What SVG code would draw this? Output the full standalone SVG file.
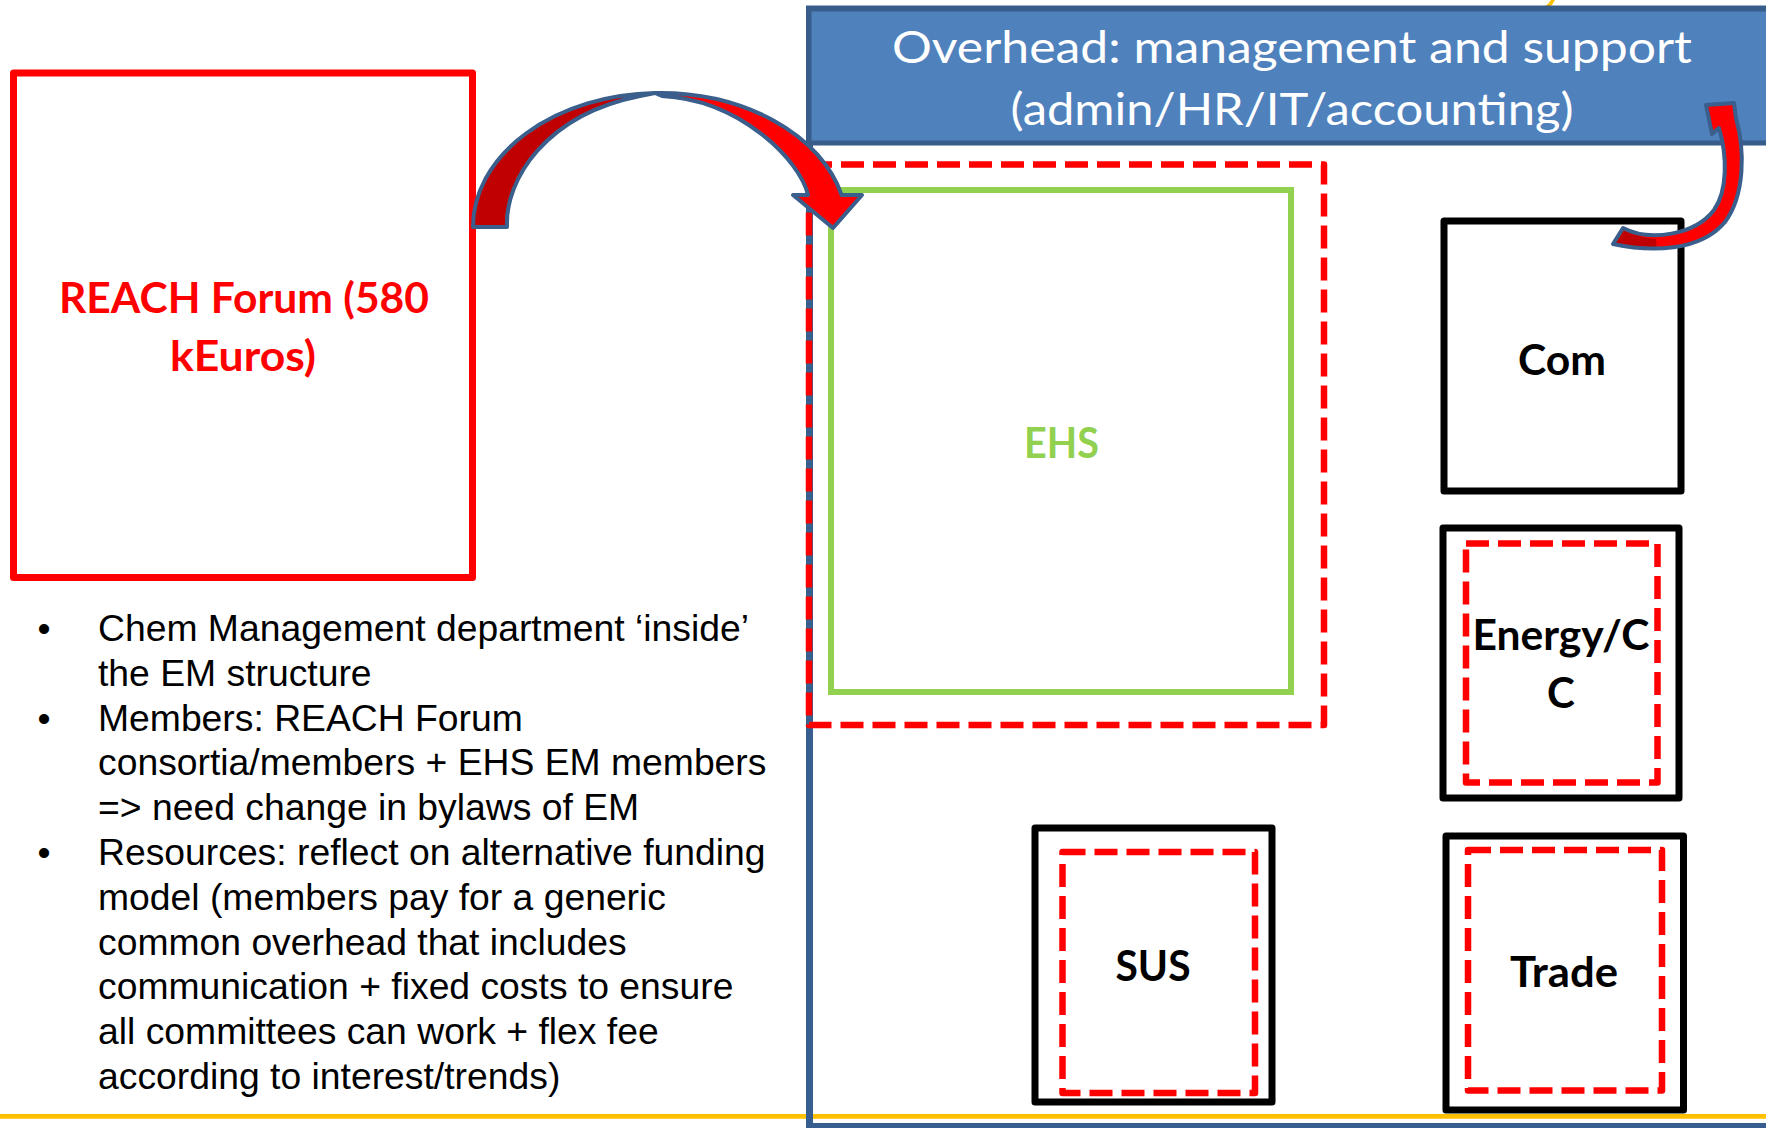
<svg xmlns="http://www.w3.org/2000/svg" width="1766" height="1128" viewBox="0 0 1766 1128">
<style>
  .bul { font-family: "Liberation Sans", Arial, sans-serif; font-size: 37.3px; fill: #000; }
  .lbl { font-family: Lato, "Open Sans", sans-serif; font-weight: bold; font-size: 42px; text-anchor: middle; }
  .hdr { font-family: Lato, "Open Sans", sans-serif; font-size: 44px; fill: #fff; text-anchor: middle; }
  .blk { fill: none; stroke: #000; stroke-width: 7; stroke-linejoin: round; }
  .dsh { fill: none; stroke: #FF0000; stroke-width: 6.5; stroke-dasharray: 23 9; stroke-linejoin: round; }
  .arrow-outline { stroke: #3B5F8C; stroke-width: 4; stroke-linejoin: round; }
</style>
<rect width="1766" height="1128" fill="#fff"/>
<line x1="0" y1="1116.3" x2="1766" y2="1116.3" stroke="#FFC000" stroke-width="4.7"/>
<polygon points="1542,8 1548,4 1551,0 1555,0 1552,5 1546,9" fill="#FFC000"/>

<g id="container">
  <rect x="809.5" y="9" width="1100" height="1117.5" fill="none" stroke="#375E8E" stroke-width="7"/>
</g>

<g id="overhead">
  <rect x="809" y="9" width="1100" height="134" fill="#4F81BD" stroke="#385D8A" stroke-width="5"/>
  <text class="hdr" x="1292" y="63" textLength="800" lengthAdjust="spacingAndGlyphs">Overhead: management and support</text>
  <text class="hdr" x="1292" y="125" textLength="563" lengthAdjust="spacingAndGlyphs">(admin/HR/IT/accounting)</text>
</g>

<g id="ehs">
  <rect class="dsh" x="809" y="164.5" width="515" height="560.5"/>
  <rect x="831" y="190" width="460" height="502" fill="none" stroke="#92D050" stroke-width="6"/>
  <text class="lbl" x="1061.5" y="458" fill="#92D050" textLength="75" lengthAdjust="spacingAndGlyphs">EHS</text>
</g>

<g id="com">
  <rect class="blk" x="1444" y="221" width="237" height="270"/>
  <text class="lbl" x="1562" y="375" fill="#000" textLength="88" lengthAdjust="spacingAndGlyphs">Com</text>
</g>

<g id="energy">
  <rect class="blk" x="1443" y="528" width="236" height="270"/>
  <rect class="dsh" x="1466" y="543.5" width="191.5" height="239"/>
  <text class="lbl" x="1561" y="650" fill="#000" textLength="177" lengthAdjust="spacingAndGlyphs">Energy/C</text>
  <text class="lbl" x="1561" y="708" fill="#000">C</text>
</g>

<g id="sus">
  <rect class="blk" x="1035" y="828" width="237" height="274"/>
  <rect class="dsh" x="1062.5" y="852" width="192.5" height="241"/>
  <text class="lbl" x="1153" y="981" fill="#000" textLength="75" lengthAdjust="spacingAndGlyphs">SUS</text>
</g>

<g id="trade">
  <rect class="blk" x="1446" y="836" width="237.5" height="274"/>
  <rect class="dsh" x="1468" y="850" width="194" height="240.5"/>
  <text class="lbl" x="1564" y="987" fill="#000" textLength="108" lengthAdjust="spacingAndGlyphs">Trade</text>
</g>

<g id="reach">
  <rect x="13.5" y="73" width="459" height="504.5" fill="none" stroke="#FF0000" stroke-width="7" stroke-linejoin="round"/>
  <text class="lbl" x="244" y="313" fill="#FF0000" textLength="370" lengthAdjust="spacingAndGlyphs">REACH Forum (580</text>
  <text class="lbl" x="243" y="371" fill="#FF0000" textLength="146" lengthAdjust="spacingAndGlyphs">kEuros)</text>
</g>

<g id="notes">
  <text class="bul" x="37.5" y="641">•</text>
  <text class="bul" x="98" y="641">Chem Management department ‘inside’</text>
  <text class="bul" x="98" y="685.8">the EM structure</text>
  <text class="bul" x="37.5" y="730.6">•</text>
  <text class="bul" x="98" y="730.6">Members: REACH Forum</text>
  <text class="bul" x="98" y="775.4">consortia/members + EHS EM members</text>
  <text class="bul" x="98" y="820.2">=&gt; need change in bylaws of EM</text>
  <text class="bul" x="37.5" y="865">•</text>
  <text class="bul" x="98" y="865">Resources: reflect on alternative funding</text>
  <text class="bul" x="98" y="909.8">model (members pay for a generic</text>
  <text class="bul" x="98" y="954.6">common overhead that includes</text>
  <text class="bul" x="98" y="999.4">communication + fixed costs to ensure</text>
  <text class="bul" x="98" y="1044.2">all committees can work + flex fee</text>
  <text class="bul" x="98" y="1089">according to interest/trends)</text>
</g>

<g id="connectors">
  <path class="arrow-outline" fill="#C00000" d="M473,227 A187,134 0 0 1 655,93 L640,96 C545,115 505,180 507,227 Z"/>
  <path class="arrow-outline" fill="#FF0000" d="M655,93 A187,134 0 0 1 841.6,195 L862,195 L833,228 L793,195 L808,195 C800,160 740,100 662,96 Z"/>
  <path fill="#FF0000" d="M1613,244 C1650,252 1700,252 1725,222 C1745,195 1745,150 1736,118 L1734,103 L1706,105 L1712,134 L1719,128 C1727,155 1728,190 1714,210 C1695,235 1650,242 1623,228 Z"/>
  <path fill="#C00000" d="M1613,244 C1628,248 1643,250 1657,250 L1656,239 C1643,238 1632,234 1623,228 Z"/>
  <path class="arrow-outline" fill="none" stroke-width="3.5" d="M1613,244 C1650,252 1700,252 1725,222 C1745,195 1745,150 1736,118 L1734,103 L1706,105 L1712,134 L1719,128 C1727,155 1728,190 1714,210 C1695,235 1650,242 1623,228 Z"/>
</g>
</svg>
